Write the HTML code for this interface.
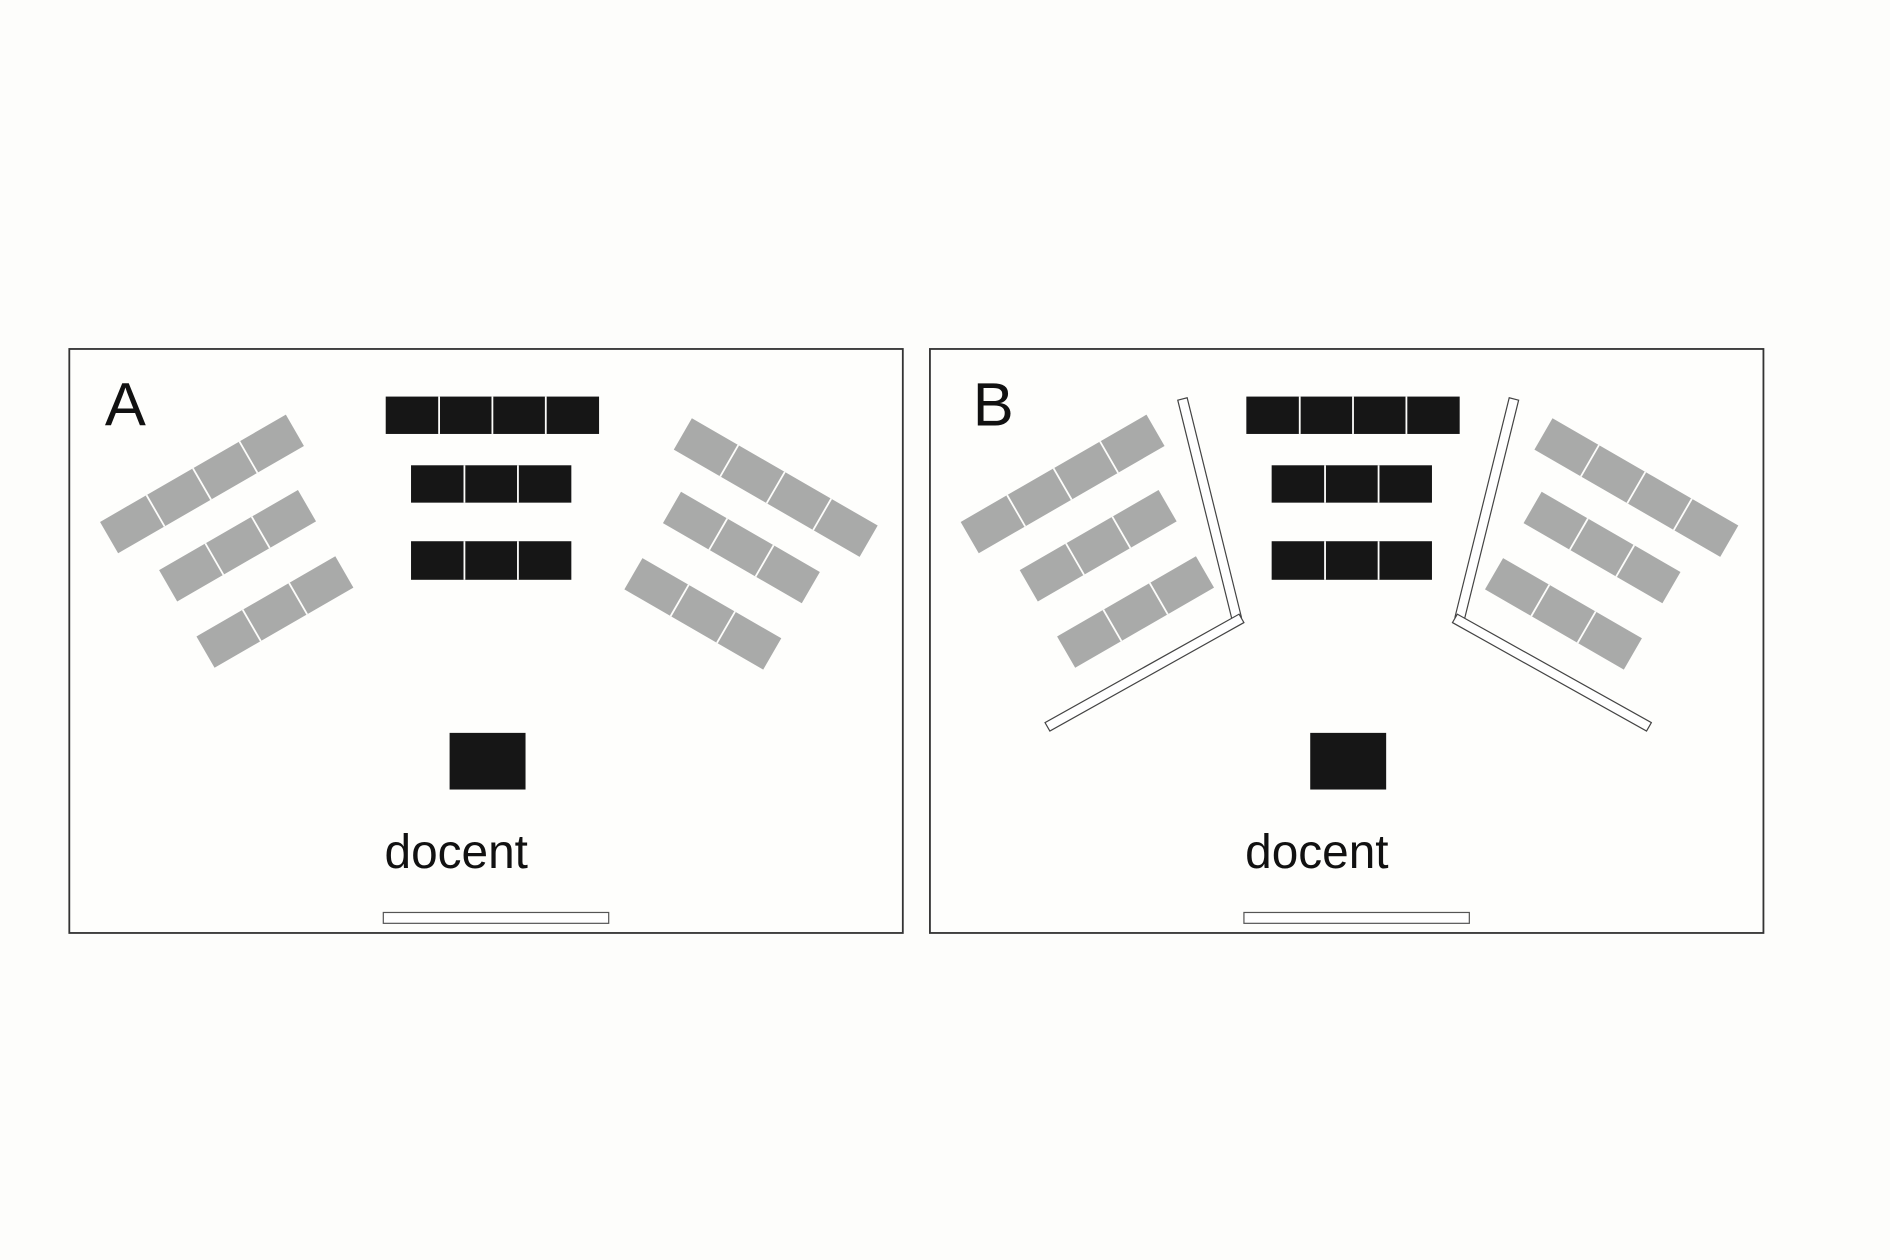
<!DOCTYPE html>
<html><head><meta charset="utf-8"><style>
html,body{margin:0;padding:0;background:#fdfdfb;}
svg{display:block;}
</style></head><body>
<svg width="1890" height="1260" viewBox="0 0 1568 1045.3" xmlns="http://www.w3.org/2000/svg">
<rect x="0" y="0" width="1568" height="1046" fill="#fdfdfb"/>
<defs>
<g id="b4"><rect width="178" height="30" fill="#a9aaa9"/><g stroke="#fdfdfb" stroke-width="1.5"><line x1="44.5" y1="0" x2="44.5" y2="30"/><line x1="89" y1="0" x2="89" y2="30"/><line x1="133.5" y1="0" x2="133.5" y2="30"/></g></g>
<g id="b3"><rect width="133" height="30" fill="#a9aaa9"/><g stroke="#fdfdfb" stroke-width="1.5"><line x1="44.3" y1="0" x2="44.3" y2="30"/><line x1="88.7" y1="0" x2="88.7" y2="30"/></g></g>
<g id="room">
<rect x="57.5" y="289.5" width="691.5" height="484.5" fill="#fefefc" stroke="#333" stroke-width="1.5"/>
<rect x="320" y="329" width="177" height="31" fill="#161616"/>
<g stroke="#fdfdfb" stroke-width="1.5"><line x1="364.3" y1="329" x2="364.3" y2="360"/><line x1="408.5" y1="329" x2="408.5" y2="360"/><line x1="452.8" y1="329" x2="452.8" y2="360"/></g>
<rect x="341" y="386" width="133" height="31" fill="#161616"/>
<rect x="341" y="449" width="133" height="32" fill="#161616"/>
<g stroke="#fdfdfb" stroke-width="1.5"><line x1="385.3" y1="386" x2="385.3" y2="417"/><line x1="429.7" y1="386" x2="429.7" y2="417"/><line x1="385.3" y1="449" x2="385.3" y2="481"/><line x1="429.7" y1="449" x2="429.7" y2="481"/></g>
<rect x="373" y="608" width="63" height="47" fill="#161616"/>
<text x="319" y="720" font-family="Liberation Sans, sans-serif" font-size="40" textLength="119" lengthAdjust="spacingAndGlyphs" fill="#111">docent</text>
<rect x="318" y="757" width="187" height="9" fill="#fff" stroke="#555" stroke-width="1"/>
<use href="#b4" transform="translate(83,433) rotate(-30)"/>
<use href="#b3" transform="translate(132,473) rotate(-30)"/>
<use href="#b3" transform="translate(163,528) rotate(-30)"/>
<use href="#b4" transform="translate(574,347) rotate(30)"/>
<use href="#b3" transform="translate(565,408) rotate(30)"/>
<use href="#b3" transform="translate(533,463) rotate(30)"/>
</g>
</defs>
<use href="#room"/>
<use href="#room" transform="translate(714,0)"/>
<text x="87" y="353" font-family="Liberation Sans, sans-serif" font-size="51" fill="#111">A</text>
<text x="807" y="353" font-family="Liberation Sans, sans-serif" font-size="51" fill="#111">B</text>
<g fill="#fff" stroke="#444" stroke-width="1">
<polygon points="977.1,332 984.9,330 1029.9,512 1022.1,514"/>
<polygon points="1028,509.5 1032,516.5 871,606.5 867,599.5"/>
<polygon points="1259.9,332 1252.1,330 1207.1,512 1214.9,514"/>
<polygon points="1209,509.5 1205,516.5 1366,606.5 1370,599.5"/>
</g>
</svg>
</body></html>
